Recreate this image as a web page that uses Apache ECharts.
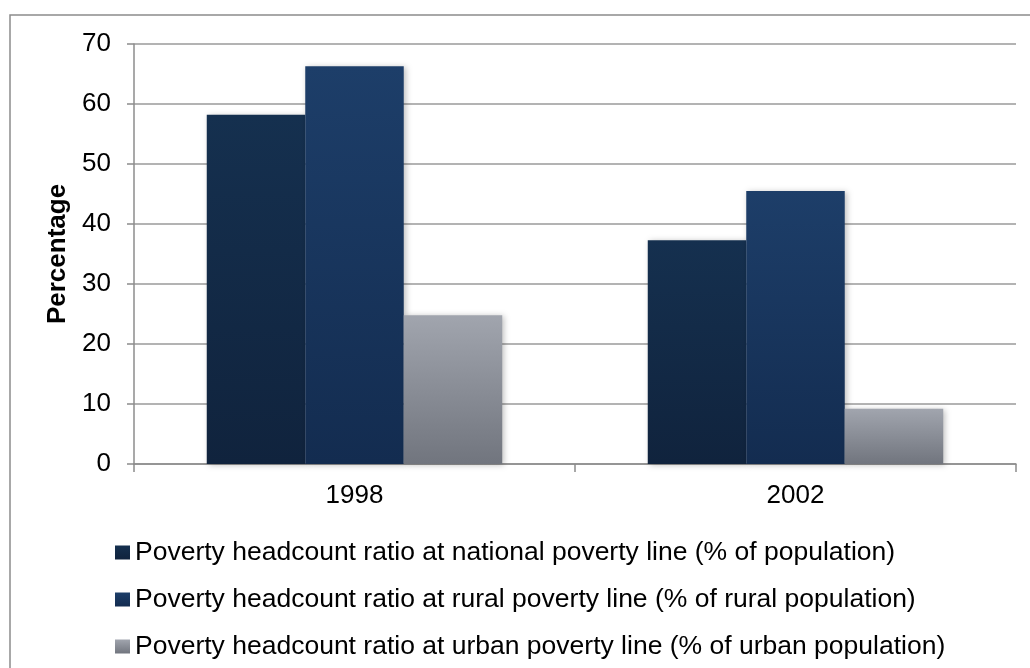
<!DOCTYPE html>
<html>
<head>
<meta charset="utf-8">
<script src="https://cdn.jsdelivr.net/npm/echarts@6/dist/echarts.min.js"></script>
<style>
  html, body { margin: 0; padding: 0; background: #fff; }
  #chart { width: 1030px; height: 668px; }
</style>
</head>
<body>
<div id="chart"></div>
<script>
// Poverty headcount ratios by year
const years = ['1998', '2002'];
const seriesNames = [
  'Poverty headcount ratio at national poverty line (% of population)',
  'Poverty headcount ratio at rural poverty line (% of rural population)',
  'Poverty headcount ratio at urban poverty line (% of urban population)'
];
const nationalValues = [58.2, 37.3];
const ruralValues = [66.3, 45.5];
const urbanValues = [24.8, 9.2];
const yTicks = [0, 10, 20, 30, 40, 50, 60, 70];

const fills = [
  ['#15304f', '#10233d'],
  ['#1d3e69', '#132c50'],
  ['#a1a5ae', '#71757e']
];

const FONT = 'Liberation Sans, Arial, sans-serif';

function grad(c) {
  return new echarts.graphic.LinearGradient(0, 0, 0, 1, [
    { offset: 0, color: c[0] }, { offset: 1, color: c[1] }
  ]);
}

const chart = echarts.init(document.getElementById('chart'), null, { renderer: 'canvas' });
const dataSets = [nationalValues, ruralValues, urbanValues];

chart.setOption({
  animation: false,
  graphic: [{
    type: 'rect',
    shape: { x: 10, y: 15, width: 1030, height: 700 },
    style: { fill: 'none', stroke: '#8c8c8c', lineWidth: 1.5 },
    silent: true
  }],
  grid: { left: 134, right: 14, top: 44, bottom: 204 },
  legend: {
    orient: 'vertical',
    left: 110,
    top: 534,
    itemWidth: 15,
    itemHeight: 14,
    itemGap: 20,
    icon: 'rect',
    textStyle: { fontFamily: FONT, fontSize: 26.5, color: '#000' },
    data: seriesNames
  },
  xAxis: {
    type: 'category',
    data: years,
    axisLine: { lineStyle: { color: '#8c8c8c', width: 1.5 } },
    axisTick: { show: true, length: 8, alignWithLabel: false, lineStyle: { color: '#8c8c8c', width: 1.5 } },
    axisLabel: { fontFamily: FONT, fontSize: 26, color: '#000', margin: 19 }
  },
  yAxis: {
    type: 'value',
    min: yTicks[0],
    max: yTicks[yTicks.length - 1],
    interval: 10,
    name: 'Percentage',
    nameLocation: 'middle',
    nameGap: 59,
    nameRotate: 90,
    nameTextStyle: { fontFamily: FONT, fontSize: 26, fontWeight: 'bold', color: '#000' },
    axisLine: { show: true, lineStyle: { color: '#8c8c8c', width: 1.5 } },
    axisTick: { show: true, length: 7, lineStyle: { color: '#8c8c8c', width: 1.5 } },
    splitLine: { lineStyle: { color: '#9a9a9a', width: 1.5 } },
    axisLabel: { fontFamily: FONT, fontSize: 26, color: '#000', margin: 23 }
  },
  series: dataSets.map((d, i) => ({
    name: seriesNames[i],
    type: 'bar',
    data: d,
    barGap: '0%',
    barCategoryGap: '33%',
    itemStyle: {
      color: grad(fills[i]),
      shadowColor: 'rgba(0,0,0,0.25)',
      shadowBlur: 6,
      shadowOffsetX: 2,
      shadowOffsetY: 1
    }
  }))
});
</script>
</body>
</html>
